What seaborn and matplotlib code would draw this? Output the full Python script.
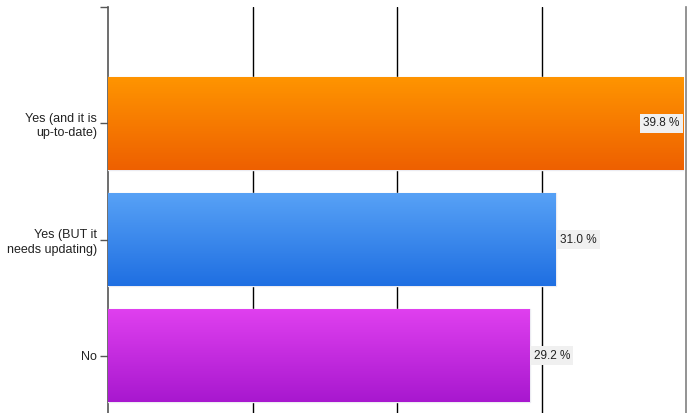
import matplotlib
matplotlib.use("Agg")
import matplotlib.pyplot as plt
import seaborn as sns
import pandas as pd
import numpy as np
from matplotlib.colors import LinearSegmentedColormap

categories = ["Yes (and it is\nup-to-date)", "Yes (BUT it\nneeds updating)", "No"]
percent = [39.8, 31.0, 29.2]

# gradient colours (top, bottom) per bar
grad_colors = [("#ff9500", "#ee6000"), ("#58a2f6", "#1f6fe2"), ("#e040ef", "#a818cf")]

df = pd.DataFrame({"answer": categories, "percent": percent})

sns.set_style("white")
plt.rcParams["font.family"] = ["Liberation Sans", "DejaVu Sans"]

fig = plt.figure(figsize=(6.98, 4.13), dpi=100)
ax = fig.add_axes([108 / 698, -1 / 413, 578 / 698, 407 / 413])

sns.barplot(data=df, x="percent", y="answer", orient="h", ax=ax,
            width=0.8, edgecolor="#ececf2", linewidth=1.0,
            palette=[c[0] for c in grad_colors], hue="answer", legend=False,
            zorder=3)

# gradient fill clipped to each bar
for patch, (top, bot) in zip(ax.patches, grad_colors):
    x0, y0 = patch.get_x(), patch.get_y()
    w, h = patch.get_width(), patch.get_height()
    cmap = LinearSegmentedColormap.from_list("g", [top, bot])
    grad = np.linspace(0, 1, 100).reshape(-1, 1)
    im = ax.imshow(grad, cmap=cmap, aspect="auto", origin="upper",
                   extent=(x0, x0 + w, y0 + h, y0), zorder=3.5)
    im.set_clip_path(patch)

ax.set_xlim(0, 40)
ax.set_ylim(2.5, -1.0)

for v in [10, 20, 30]:
    ax.axvline(v, color="black", lw=1.0, zorder=1)

for i, v in enumerate(percent):
    txt = f"{v:.1f} %"
    if v > 38:
        ax.text(v - 0.25, i, txt, ha="right", va="center", fontsize=8.5, color="#222222",
                zorder=5, bbox=dict(boxstyle="square,pad=0.3", fc="#f0f0f0", ec="none"))
    else:
        ax.text(v + 0.25, i, txt, ha="left", va="center", fontsize=8.5, color="#222222",
                zorder=5, bbox=dict(boxstyle="square,pad=0.3", fc="#f0f0f0", ec="none"))

ax.set_xlabel("")
ax.set_ylabel("")
ax.set_xticks([])
ax.set_yticks([-1, 0, 1, 2])
ax.set_yticklabels(["", categories[0], categories[1], categories[2]], fontsize=9,
                   color="#222222", linespacing=1.3)
ax.tick_params(axis="y", length=6, width=1, color="#555555", pad=2, left=True)

for s in ["top", "bottom"]:
    ax.spines[s].set_visible(False)
ax.spines["left"].set_color("#555555")
ax.spines["left"].set_linewidth(1.2)
ax.spines["right"].set_color("#808080")
ax.spines["right"].set_linewidth(1.2)

fig.savefig("out.png", dpi=100)
